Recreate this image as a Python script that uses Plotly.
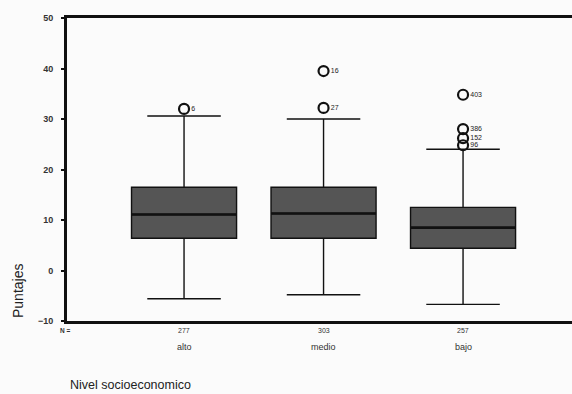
import plotly.graph_objects as go

# Nivel socioeconomico groups and their box statistics (Puntajes)
categorias = ["alto", "medio", "bajo"]
n_casos = [277, 303, 257]
q1 = [6.4, 6.4, 4.4]
mediana = [11.1, 11.3, 8.5]
q3 = [16.5, 16.5, 12.5]
bigote_inf = [-5.6, -4.8, -6.7]
bigote_sup = [30.6, 30.0, 24.0]

# Atypical cases: group, value, case number
atip_grupo = ["alto", "medio", "medio", "bajo", "bajo", "bajo", "bajo"]
atip_valor = [32.0, 39.5, 32.2, 34.8, 28.0, 26.2, 24.8]
atip_caso = ["6", "16", "27", "403", "386", "152", "96"]

y_ticks = [-10, 0, 10, 20, 30, 40, 50]

FONT = "Liberation Sans, Arial, sans-serif"
W, H = 572, 394
ML, MR, MT, MB = 67, 0, 18, 73

fig = go.Figure()

fig.add_trace(go.Box(
    x=categorias,
    q1=q1, median=mediana, q3=q3,
    lowerfence=bigote_inf, upperfence=bigote_sup,
    fillcolor="#555555",
    line=dict(color="#111111", width=1.4),
    whiskerwidth=0.7,
    boxpoints=False,
    hoverinfo="skip",
    showlegend=False,
))

# Heavier median bar drawn as a zero-height box on top
fig.add_trace(go.Box(
    x=categorias,
    q1=mediana, median=mediana, q3=mediana,
    lowerfence=mediana, upperfence=mediana,
    fillcolor="rgba(0,0,0,0)",
    line=dict(color="#111111", width=2.6),
    whiskerwidth=0,
    boxpoints=False,
    hoverinfo="skip",
    showlegend=False,
))

fig.add_trace(go.Scatter(
    x=atip_grupo, y=atip_valor,
    mode="markers+text",
    marker=dict(symbol="circle-open", size=10, color="#111111",
                line=dict(width=2.2, color="#111111")),
    text=atip_caso,
    textposition="middle right",
    textfont=dict(family=FONT, size=7, color="#222222"),
    cliponaxis=False,
    hoverinfo="skip",
    showlegend=False,
))

# Case counts and group names under the axis
for cat, n in zip(categorias, n_casos):
    fig.add_annotation(x=cat, xref="x", y=-0.03, yref="paper",
                       text=str(n), showarrow=False, yanchor="middle",
                       font=dict(family=FONT, size=7, color="#333333"))
    fig.add_annotation(x=cat, xref="x", y=-0.085, yref="paper",
                       text=cat, showarrow=False, yanchor="middle",
                       font=dict(family=FONT, size=9, color="#333333"))

pw = W - ML - MR
ph = H - MT - MB
fig.add_annotation(x=(65 - ML) / pw, xref="paper", y=-0.03, yref="paper",
                   text="<b>N =</b>", showarrow=False,
                   xanchor="center", yanchor="middle",
                   font=dict(family=FONT, size=6.5, color="#333333"))

fig.add_annotation(x=(18 - ML) / pw, xref="paper", y=(H - MB - 291) / ph, yref="paper",
                   text="Puntajes", textangle=-90, showarrow=False,
                   xanchor="center", yanchor="middle",
                   font=dict(family=FONT, size=14, color="#222222"))

fig.add_annotation(x=(68 - ML) / pw, xref="paper", y=-(385 - (H - MB)) / ph, yref="paper",
                   text="Nivel socioeconomico", showarrow=False,
                   xanchor="left", yanchor="middle",
                   font=dict(family=FONT, size=12.5, color="#222222"))

fig.update_layout(
    width=W, height=H,
    margin=dict(l=ML, r=MR, t=MT, b=MB),
    paper_bgcolor="#fbfbfb",
    plot_bgcolor="#fbfbfb",
    boxmode="overlay",
    boxgap=0.247,
    boxgroupgap=0,
    xaxis=dict(
        type="category",
        range=[-0.839, 2.781],
        showticklabels=False,
        ticks="",
        showgrid=False, zeroline=False,
        showline=True, linewidth=3, linecolor="#111111",
        mirror=True,
    ),
    yaxis=dict(
        range=[-10, 50],
        tickvals=y_ticks,
        ticks="outside", ticklen=3, tickwidth=1.5, tickcolor="#111111",
        ticklabelstandoff=6,
        tickfont=dict(family=FONT, size=9, color="#333333", weight="bold"),
        showgrid=False, zeroline=False,
        showline=True, linewidth=3, linecolor="#111111",
        mirror=False,
    ),
)

fig.write_html("out.html")
